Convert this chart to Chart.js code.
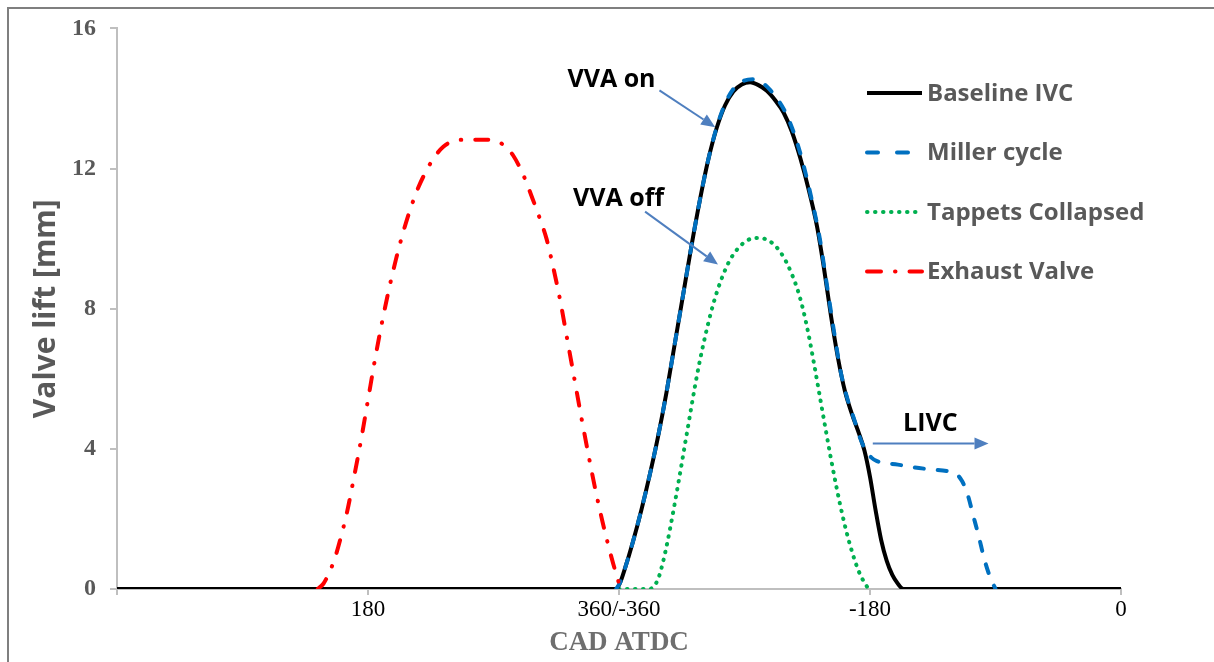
<!DOCTYPE html>
<html>
<head>
<meta charset="utf-8">
<script src="https://cdn.jsdelivr.net/npm/chart.js@4.4.1/dist/chart.umd.min.js"></script>
<style>
  html, body { margin: 0; padding: 0; background: #fff; }
  #wrap { position: relative; width: 1214px; height: 662px; overflow: hidden; }
  #frame {
    position: absolute; left: 7px; top: 7px; right: 0; bottom: 0;
    border-top: 2px solid #7f7f7f; border-left: 2px solid #7f7f7f;
  }
  canvas { position: absolute; left: 0; top: 0; }
</style>
</head>
<body>
<div id="wrap">
  <div id="frame"></div>
  <canvas id="grafico" width="1214" height="662"></canvas>
</div>
<script>
// ------------------------------------------------------------
// DADOS — eixo x: 0..720, rótulos ATDC
// ------------------------------------------------------------
const xTickValues = [0, 180, 360, 540, 720];
const xTickLabels = ["", "180", "360/-360", "-180", "0"];
const yTickValues = [0, 4, 8, 12, 16];

const baselineCad  = [0, 358, 361, 364, 370, 376, 382, 388, 394, 400, 406, 412, 418, 424, 430, 436, 442, 448, 454, 460, 466, 472, 478, 484, 490, 496, 502, 507, 512, 517, 522, 527, 532, 536, 540, 544, 548, 552, 556, 560, 564, 720];
const baselineLift = [0, 0, 0.2, 0.55, 1.35, 2.25, 3.25, 4.35, 5.6, 7.0, 8.4, 9.8, 11.1, 12.25, 13.15, 13.8, 14.2, 14.4, 14.46, 14.38, 14.22, 13.95, 13.6, 13.05, 12.3, 11.4, 10.35, 9.15, 7.8, 6.6, 5.65, 5.0, 4.45, 3.95, 3.2, 2.25, 1.4, 0.8, 0.4, 0.15, 0, 0];

const millerCad  = [358, 361, 364, 370, 376, 382, 388, 394, 400, 406, 412, 418, 424, 430, 436, 442, 448, 456, 462, 468, 474, 480, 486, 492, 498, 504, 509, 514, 519, 524, 529, 533, 537, 541, 545, 550, 560, 572, 584, 596, 602, 606, 610, 614, 618, 622, 626, 630];
const millerLift = [0, 0.2, 0.55, 1.35, 2.25, 3.25, 4.35, 5.6, 7.0, 8.4, 9.8, 11.1, 12.25, 13.17, 13.84, 14.27, 14.48, 14.55, 14.47, 14.26, 13.96, 13.55, 12.95, 12.15, 11.15, 10.0, 8.7, 7.4, 6.2, 5.4, 4.8, 4.3, 3.95, 3.75, 3.65, 3.6, 3.55, 3.47, 3.41, 3.36, 3.28, 3.08, 2.7, 2.1, 1.5, 0.85, 0.35, 0];

const tappetsCad  = [360, 382, 385, 388, 391, 394, 397, 400, 403, 406, 409, 412, 415, 418, 422, 426, 430, 435, 440, 446, 452, 458, 464, 468, 472, 476, 480, 484, 488, 492, 496, 500, 504, 508, 512, 516, 520, 524, 528, 532, 536, 539];
const tappetsLift = [0, 0, 0.08, 0.28, 0.68, 1.2, 1.8, 2.45, 3.12, 3.82, 4.52, 5.22, 5.9, 6.52, 7.25, 7.9, 8.45, 9.0, 9.42, 9.75, 9.95, 10.02, 10.0, 9.93, 9.8, 9.6, 9.33, 8.98, 8.55, 7.98, 7.25, 6.4, 5.5, 4.6, 3.72, 2.9, 2.15, 1.5, 0.95, 0.5, 0.18, 0];

const exhaustCad  = [144, 148, 152, 156, 160, 165, 170, 175, 180, 185, 190, 195, 200, 205, 210, 216, 222, 228, 234, 240, 248, 257, 266, 272, 278, 284, 291, 298, 303, 308, 313, 318, 323, 328, 333, 338, 343, 348, 352, 356, 359, 361];
const exhaustLift = [0, 0.15, 0.45, 0.85, 1.4, 2.2, 3.2, 4.25, 5.4, 6.55, 7.6, 8.55, 9.4, 10.15, 10.8, 11.45, 11.95, 12.35, 12.62, 12.77, 12.82, 12.82, 12.82, 12.78, 12.65, 12.38, 11.85, 11.14, 10.6, 10.0, 9.15, 8.2, 7.1, 6.0, 4.9, 3.85, 2.85, 1.95, 1.3, 0.7, 0.3, 0];

// anotações em coordenadas de dados
const notas = [
  { texto: "VVA on",  x: 323, y: 14.52, de: [389, 14.23], ate: [429, 13.18] },
  { texto: "VVA off", x: 327, y: 11.14, de: [378.7, 10.77], ate: [431, 9.26] },
  { texto: "LIVC",    x: 563.7, y: 4.70, de: [542, 4.15], ate: [625, 4.15] }
];

// =====================================================
// HELPERS
// =====================================================
function pontos(xs, ys) {
  return xs.map((x, i) => ({ x, y: ys[i] }));
}

function serie(label, xs, ys, color, dash, legendDash, order, cap) {
  return {
    label,
    data: pontos(xs, ys),
    borderColor: color,
    backgroundColor: color,
    borderWidth: 4,
    borderDash: dash,
    legendDash,
    borderCapStyle: cap,
    borderJoinStyle: "round",
    pointRadius: 0,
    cubicInterpolationMode: "monotone",
    fill: false,
    order
  };
}

function seta(ctx, x1, y1, x2, y2) {
  const ang = Math.atan2(y2 - y1, x2 - x1);
  const head = 14;
  const xb = x2 - Math.cos(ang) * head;
  const yb = y2 - Math.sin(ang) * head;
  ctx.beginPath();
  ctx.moveTo(x1, y1);
  ctx.lineTo(xb, yb);
  ctx.stroke();
  ctx.beginPath();
  ctx.moveTo(x2, y2);
  ctx.lineTo(xb + Math.sin(ang) * 6, yb - Math.cos(ang) * 6);
  ctx.lineTo(xb - Math.sin(ang) * 6, yb + Math.cos(ang) * 6);
  ctx.closePath();
  ctx.fill();
}

// legenda + anotações desenhadas por cima
const extrasPlugin = {
  id: "extras",
  afterDraw(chart) {
    const { ctx, scales: { x, y } } = chart;
    ctx.save();

    // anotações
    ctx.strokeStyle = "#4f7fbf";
    ctx.fillStyle = "#4f7fbf";
    ctx.lineWidth = 2;
    notas.forEach(n => {
      seta(ctx, x.getPixelForValue(n.de[0]), y.getPixelForValue(n.de[1]),
                x.getPixelForValue(n.ate[0]), y.getPixelForValue(n.ate[1]));
    });
    ctx.fillStyle = "#000";
    ctx.font = "bold 25px 'Open Sans'";
    ctx.textBaseline = "middle";
    ctx.textAlign = "left";
    notas.forEach(n => {
      ctx.fillText(n.texto, x.getPixelForValue(n.x), y.getPixelForValue(n.y));
    });

    // legenda
    const x0 = 867, x1 = 922, yTopo = 93, passo = 59.5;
    chart.data.datasets.forEach((ds, i) => {
      const yy = yTopo + i * passo;
      ctx.beginPath();
      ctx.strokeStyle = ds.borderColor;
      ctx.lineWidth = ds.borderWidth;
      ctx.lineCap = ds.borderCapStyle;
      ctx.setLineDash(ds.legendDash);
      ctx.moveTo(x0, yy);
      ctx.lineTo(x1, yy);
      ctx.stroke();
      ctx.setLineDash([]);
      ctx.fillStyle = "#595959";
      ctx.font = "bold 24px 'Open Sans'";
      ctx.fillText(ds.label, 927, yy + 1);
    });
    ctx.restore();
  }
};

// =====================================================
// GRÁFICO
// =====================================================
const grafico = new Chart(document.getElementById("grafico"), {
  type: "line",
  data: {
    datasets: [
      serie("Baseline IVC", baselineCad, baselineLift, "#000000", [], [], 2, "butt"),
      serie("Miller cycle", millerCad, millerLift, "#0070c0", [9, 14], [11, 19], 1, "round"),
      serie("Tappets Collapsed", tappetsCad, tappetsLift, "#00b050", [0.5, 7.5], [0.5, 7.5], 3, "round"),
      serie("Exhaust Valve", exhaustCad, exhaustLift, "#ff0000", [13, 14, 0.5, 14], [14, 14, 0.5, 14], 0, "round")
    ]
  },
  options: {
    responsive: false,
    animation: false,
    devicePixelRatio: 1,
    layout: { padding: { left: 0, top: 25, right: 93, bottom: 0 } },
    plugins: {
      legend: { display: false },
      tooltip: { enabled: false }
    },
    scales: {
      x: {
        type: "linear",
        min: 0,
        max: 720,
        afterBuildTicks: s => { s.ticks = xTickValues.map(v => ({ value: v })); },
        afterFit: s => { s.height = 73; },
        ticks: {
          autoSkip: false,
          maxRotation: 0,
          padding: 1,
          color: "#000",
          font: { family: "'Liberation Serif'", size: 23 },
          callback: v => xTickLabels[xTickValues.indexOf(v)]
        },
        grid: { drawOnChartArea: false, tickLength: 6, color: "#bfbfbf", lineWidth: 2 },
        border: { color: "#bfbfbf", width: 2 },
        title: {
          display: true,
          text: "CAD ATDC",
          color: "#6e6e6e",
          font: { family: "'Liberation Serif'", size: 27, weight: "bold" },
          padding: { top: 0, bottom: 3 }
        }
      },
      y: {
        min: 0,
        max: 16,
        afterBuildTicks: s => { s.ticks = yTickValues.map(v => ({ value: v })); },
        afterFit: s => { s.width = 117; },
        ticks: {
          padding: 14,
          color: "#595959",
          font: { family: "'Liberation Serif'", size: 24, weight: "bold" }
        },
        grid: { drawOnChartArea: false, tickLength: 7, color: "#bfbfbf", lineWidth: 2 },
        border: { color: "#bfbfbf", width: 2 },
        title: {
          display: true,
          text: "Valve lift [mm]",
          color: "#595959",
          font: { family: "'Open Sans'", size: 30, weight: "bold" },
          padding: { top: 28, bottom: 0 }
        }
      }
    }
  },
  plugins: [extrasPlugin]
});
</script>
</body>
</html>
